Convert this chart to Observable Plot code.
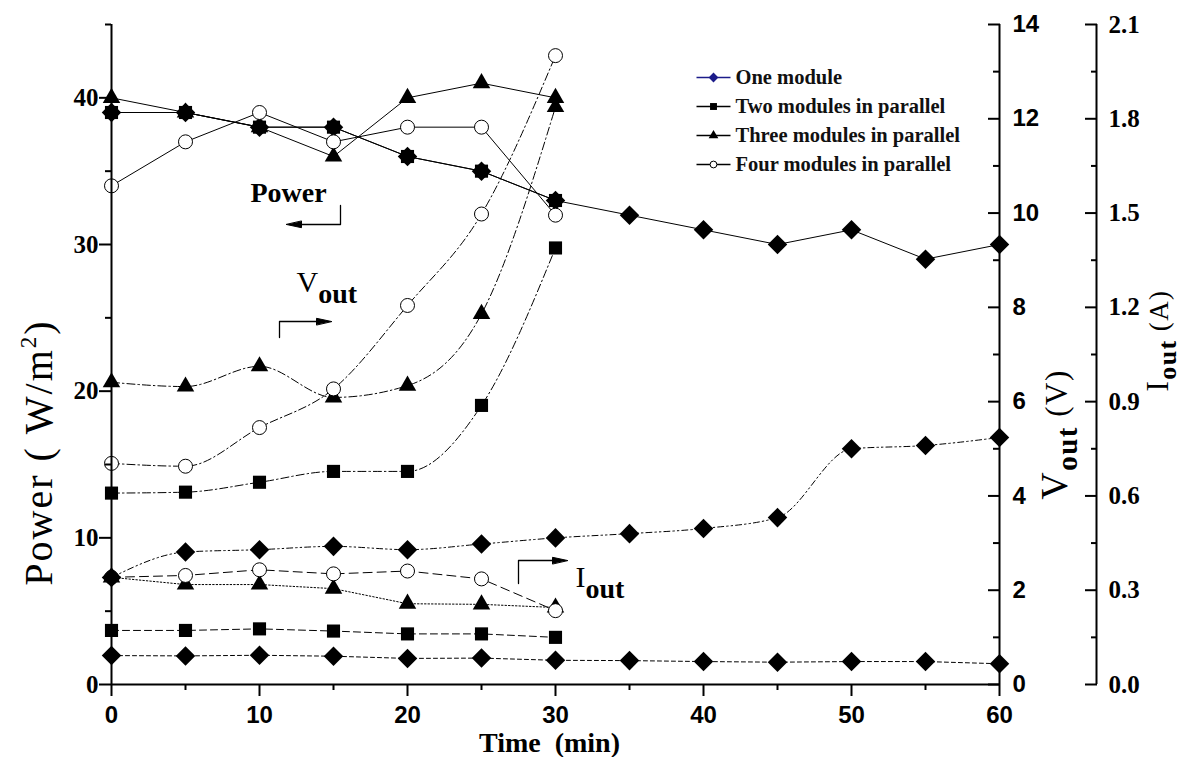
<!DOCTYPE html>
<html>
<head>
<meta charset="utf-8">
<script src="https://cdn.jsdelivr.net/npm/d3@7"></script>
<script src="https://cdn.jsdelivr.net/npm/@observablehq/plot@0.6"></script>
<style>
  html, body { margin: 0; padding: 0; background: #fff; }
  #chart svg { display: block; }
</style>
</head>
<body>
<div id="chart"></div>
<script>
// ---------------- DATA ----------------
const seriesNames = ["One module", "Two modules in parallel", "Three modules in parallel", "Four modules in parallel"];

const timeOne = [0, 5, 10, 15, 20, 25, 30, 35, 40, 45, 50, 55, 60];
const timeParallel = [0, 5, 10, 15, 20, 25, 30];

// Power (W/m2) – left axis
const powerOne = [39, 39, 38, 38, 36, 35, 33, 32, 31, 30, 31, 29, 30];
const powerTwo = [39, 39, 38, 38, 36, 35, 33];
const powerThree = [40, 39, 38, 36, 40, 41, 40];
const powerFour = [34, 37, 39, 37, 38, 38, 32];

// Vout (V) – first right axis
const voutOne = [2.27, 2.81, 2.86, 2.93, 2.86, 2.98, 3.11, 3.2, 3.31, 3.54, 5.0, 5.07, 5.24];
const voutTwo = [4.06, 4.08, 4.29, 4.52, 4.52, 5.92, 9.26];
const voutThree = [6.41, 6.32, 6.75, 6.09, 6.34, 7.86, 12.25];
const voutFour = [4.69, 4.63, 5.45, 6.27, 8.04, 9.98, 13.34];

// Iout (A) – second right axis
const ioutOne = [0.092, 0.091, 0.093, 0.090, 0.083, 0.084, 0.077, 0.076, 0.073, 0.071, 0.073, 0.073, 0.066];
const ioutTwo = [0.172, 0.172, 0.177, 0.170, 0.161, 0.161, 0.150];
const ioutThree = [0.341, 0.318, 0.318, 0.305, 0.257, 0.255, 0.245];
const ioutFour = [0.341, 0.347, 0.365, 0.352, 0.361, 0.336, 0.235];

// Axis ticks
const timeTicks = [0, 10, 20, 30, 40, 50, 60];
const timeMinorTicks = [5, 15, 25, 35, 45, 55];
const powerTicks = [0, 10, 20, 30, 40];
const powerMinorTicks = [5, 15, 25, 35, 45];
const voutTicks = [0, 2, 4, 6, 8, 10, 12, 14];
const voutMinorTicks = [1, 3, 5, 7, 9, 11, 13];
const ioutTicks = [0, 0.3, 0.6, 0.9, 1.2, 1.5, 1.8, 2.1];
const ioutMinorTicks = [0.15, 0.45, 0.75, 1.05, 1.35, 1.65, 1.95];

const axisTitles = {x: "Time\u00a0\u00a0(min)", power: "Power ( W/m2)", vout: "Vout (V)", iout: "Iout (A)"};
const annotationLabels = ["Power", "Vout", "Iout"];

// ---------------- LAYOUT / STYLE ----------------
const W = 1184, H = 757;
const M = {left: 111, right: 185, top: 24, bottom: 73};
const powerMax = 45, voutMax = 14, ioutMax = 2.1, timeMax = 60;
const serif = "'Liberation Serif', 'Times New Roman', serif";
const sans = "'Liberation Sans', Arial, sans-serif";

const toY = {power: v => v, vout: v => v * powerMax / voutMax, iout: v => v * powerMax / ioutMax};
const plotW = W - M.left - M.right, plotH = H - M.top - M.bottom;
const px2x = p => (p - M.left) / plotW * timeMax;
const px2y = p => (H - M.bottom - p) / plotH * powerMax;

const seriesDefs = [
  {name: seriesNames[0], time: timeOne, power: powerOne, vout: voutOne, iout: ioutOne},
  {name: seriesNames[1], time: timeParallel, power: powerTwo, vout: voutTwo, iout: ioutTwo},
  {name: seriesNames[2], time: timeParallel, power: powerThree, vout: voutThree, iout: ioutThree},
  {name: seriesNames[3], time: timeParallel, power: powerFour, vout: voutFour, iout: ioutFour}
];

const markerStyle = [
  {symbol: "diamond2", r: 8.8, fill: "#000", stroke: "none"},
  {symbol: "square", r: 7.4, fill: "#000", stroke: "none"},
  {symbol: "triangle", r: 6.5, fill: "#000", stroke: "none"},
  {symbol: "circle", r: 7, fill: "#fff", stroke: "#000"}
];
const legendMarker = [
  {symbol: "diamond2", r: 4.4, fill: "#1c1c8a", stroke: "none", line: "#1c1c8a"},
  {symbol: "square", r: 3.9, fill: "#000", stroke: "none", line: "#000"},
  {symbol: "triangle", r: 3.6, fill: "#000", stroke: "none", line: "#000"},
  {symbol: "circle", r: 3.4, fill: "#fff", stroke: "#000", line: "#000"}
];
const dashes = {
  power: [null, null, null, null],
  vout: ["6,3,1.5,3,1.5,3", "8,3,1.5,3", "8,3,1.5,3", "8,3,1.5,3"],
  iout: ["4,3", "7,4", "1.5,2", "9,5"]
};
const curves = {power: "linear", vout: "monotone-x", iout: "linear"};

// ---------------- RECORDS ----------------
const records = [];
seriesDefs.forEach((s, si) => {
  for (const q of ["power", "vout", "iout"]) {
    s[q].forEach((v, i) => records.push({series: s.name, si, quantity: q, time: s.time[i], value: v, y: toY[q](v)}));
  }
});

const marks = [];
for (const q of ["iout", "vout", "power"]) {
  seriesDefs.forEach((s, si) => {
    marks.push(Plot.line(records.filter(d => d.si === si && d.quantity === q), {
      x: "time", y: "y", stroke: "#000", strokeWidth: 1,
      strokeDasharray: dashes[q][si], curve: curves[q]
    }));
  });
}
for (const q of ["iout", "vout", "power"]) {
  seriesDefs.forEach((s, si) => {
    const st = markerStyle[si];
    marks.push(Plot.dot(records.filter(d => d.si === si && d.quantity === q), {
      x: "time", y: "y", symbol: st.symbol, r: st.r, fill: st.fill, stroke: st.stroke, strokeWidth: 1
    }));
  });
}

// axis lines
marks.push(
  Plot.ruleX([0], {strokeWidth: 2}),
  Plot.ruleX([timeMax], {strokeWidth: 2}),
  Plot.ruleX([timeMax], {strokeWidth: 2, dx: 97}),
  Plot.ruleY([0], {strokeWidth: 2})
);
// x axis
marks.push(
  Plot.axisX(timeTicks, {tickSize: 12, tickPadding: 9, strokeWidth: 2, fontSize: 24, fontWeight: "bold", fontFamily: sans, label: null}),
  Plot.axisX(timeMinorTicks, {tickSize: 6, strokeWidth: 2, tickFormat: () => "", label: null})
);
// left power axis
marks.push(
  Plot.axisY(powerTicks, {anchor: "left", tickSize: 12, tickPadding: 1, strokeWidth: 2, fontSize: 25, fontWeight: "bold", fontFamily: serif, label: null}),
  Plot.axisY(powerMinorTicks, {anchor: "left", tickSize: 6, strokeWidth: 2, tickFormat: () => "", label: null})
);
// Vout axis (ticks pointing inward)
marks.push(
  Plot.axisY(voutTicks.map(toY.vout), {anchor: "right", tickSize: 12, dx: -12, tickPadding: 13, strokeWidth: 2,
    tickFormat: d => String(Math.round(d * voutMax / powerMax)), fontSize: 24, fontWeight: "bold", fontFamily: sans, label: null}),
  Plot.axisY(voutMinorTicks.map(toY.vout), {anchor: "right", tickSize: 7, dx: -7, strokeWidth: 2, tickFormat: () => "", label: null})
);
// Iout axis
marks.push(
  Plot.axisY(ioutTicks.map(toY.iout), {anchor: "right", tickSize: 12, dx: 85, tickPadding: 12, strokeWidth: 2,
    tickFormat: d => (d * ioutMax / powerMax).toFixed(1), fontSize: 25, fontWeight: "bold", fontFamily: serif, label: null}),
  Plot.axisY(ioutMinorTicks.map(toY.iout), {anchor: "right", tickSize: 6, dx: 91, strokeWidth: 2, tickFormat: () => "", label: null})
);

// axis titles
marks.push(
  Plot.text([axisTitles.x], {text: d => d, frameAnchor: "bottom", dx: -6, dy: 67, lineAnchor: "bottom",
    fontSize: 28, fontWeight: "bold", fontFamily: serif, fill: "#000"}),
  Plot.text([axisTitles.power], {text: d => d, frameAnchor: "left", textAnchor: "middle", dx: -72, dy: 98, rotate: -90,
    fontSize: 40, fontFamily: serif, fill: "#000", ariaLabel: () => "power-title"}),
  Plot.text([axisTitles.vout], {text: d => d, frameAnchor: "right", textAnchor: "middle", dx: 55, dy: 80, rotate: -90,
    fontSize: 38, fontFamily: serif, fill: "#000", ariaLabel: () => "vout-title"}),
  Plot.text([axisTitles.iout], {text: d => d, frameAnchor: "right", textAnchor: "middle", dx: 159, dy: -14, rotate: -90,
    fontSize: 31, fontFamily: serif, fill: "#000", ariaLabel: () => "iout-title"})
);

// annotations
const annotationPos = [
  {x: px2x(250), y: px2y(201)},
  {x: px2x(296), y: px2y(291)},
  {x: px2x(575), y: px2y(586)}
];
annotationLabels.forEach((lab, i) => {
  marks.push(Plot.text([lab], {x: () => annotationPos[i].x, y: () => annotationPos[i].y, text: d => d,
    textAnchor: "start", lineAnchor: "bottom", fontSize: i === 0 ? 28 : 30, fontWeight: i === 0 ? "bold" : "normal",
    fontFamily: serif, fill: "#000", ariaLabel: () => "annot-" + i}));
});
const arrowPaths = [
  [[340, 205], [340, 224], [298, 224]],
  [[279, 337], [279, 321], [318, 321]],
  [[518, 583], [518, 560], [554, 560]]
].map((pts, k) => pts.map(([a, b]) => ({k, x: px2x(a), y: px2y(b)})));
const arrowHeads = [
  {x: px2x(286), y: px2y(224), rotate: -90},
  {x: px2x(331), y: px2y(321), rotate: 90},
  {x: px2x(567), y: px2y(560), rotate: 90}
];
const headShape = {draw(ctx) { ctx.moveTo(0, 0); ctx.lineTo(-3.2, 15); ctx.lineTo(3.2, 15); ctx.closePath(); }};
marks.push(
  Plot.line(arrowPaths.flat(), {x: "x", y: "y", z: "k", stroke: "#000", strokeWidth: 1.3}),
  Plot.vector(arrowHeads, {x: "x", y: "y", rotate: "rotate", shape: headShape, anchor: "start", fill: "#000", stroke: "#000", strokeWidth: 1})
);

// legend
const legendRows = seriesNames.map((name, i) => ({
  name, i,
  x1: px2x(696), x2: px2x(730), xm: px2x(713), xt: px2x(735),
  y: px2y(77 + i * 29)
}));
legendRows.forEach((row, i) => {
  const st = legendMarker[i];
  marks.push(
    Plot.link([row], {x1: "x1", x2: "x2", y1: "y", y2: "y", stroke: st.line, strokeWidth: 1.3}),
    Plot.dot([row], {x: "xm", y: "y", symbol: st.symbol, r: st.r, fill: st.fill, stroke: st.stroke, strokeWidth: 1})
  );
});
marks.push(Plot.text(legendRows, {x: "xt", y: "y", text: "name", textAnchor: "start", fontSize: 20.5,
  fontWeight: "bold", fontFamily: serif, fill: "#111"}));

const chart = Plot.plot({
  width: W, height: H,
  marginLeft: M.left, marginRight: M.right, marginTop: M.top, marginBottom: M.bottom,
  x: {domain: [0, timeMax], axis: null},
  y: {domain: [0, powerMax], axis: null},
  style: {background: "#fff", color: "#000", fontFamily: serif, overflow: "visible"},
  marks
});
document.getElementById("chart").appendChild(chart);

// rich text (sub/superscripts) on Plot-created text elements
function richText(label, parts, spacing) {
  const text = d3.select(chart).select(`text[aria-label="${label}"]`);
  if (text.empty()) return;
  text.text("");
  if (spacing) text.attr("letter-spacing", spacing);
  let shift = 0;
  for (const p of parts) {
    const ts = text.append("tspan").text(p.text);
    if (p.size) ts.attr("font-size", p.size);
    if (p.weight) ts.attr("font-weight", p.weight);
    const target = p.shift || 0;
    if (target !== shift) { ts.attr("dy", target - shift); shift = target; }
  }
}
richText("power-title", [{text: "Power\u00a0(\u00a0W/m"}, {text: "2", size: 23, shift: -16}, {text: ")", shift: 0}], 2);
richText("vout-title", [{text: "V"}, {text: "out", size: 29, weight: "bold", shift: 10}, {text: "\u00a0(V)", size: 31, shift: 0}], 1.5);
richText("iout-title", [{text: "I"}, {text: "out", size: 26, weight: "bold", shift: 8}, {text: "\u00a0(A)", size: 27, shift: 0}], 1.4);
richText("annot-1", [{text: "V"}, {text: "out", size: 28, weight: "bold", shift: 11}]);
richText("annot-2", [{text: "I"}, {text: "out", size: 28, weight: "bold", shift: 11}]);
</script>
</body>
</html>
